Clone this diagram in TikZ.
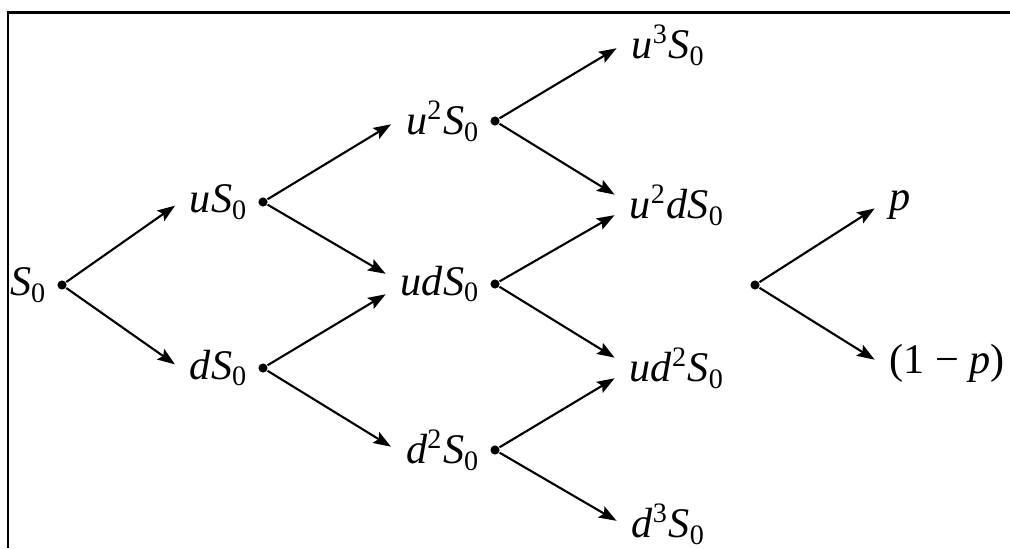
\documentclass[tikz,border=0pt]{standalone}
\usepackage{fontspec}
\setmainfont{Liberation Serif}
\usetikzlibrary{arrows.meta,positioning}
\newcommand{\Sz}{\textit{S}\textsubscript{0}}
\tikzset{
  lbl/.style  ={inner xsep=0.9mm, inner ysep=1pt, font=\fontsize{12}{14}\selectfont},
  fl/.style   ={-{Stealth[length=5pt,width=3.6pt,inset=0.9pt]}, line width=0.6pt,
                shorten >=1.8pt},
  knot/.style ={circle, fill, inner sep=0pt, minimum size=2.6pt},
}
\begin{document}
\begin{tikzpicture}[x=0.01cm, y=-0.01cm]
\useasboundingbox (0,0) rectangle (1010,548);
\draw[line width=0.85pt] (8,548) -- (8,12.5) -- (1010,12.5);
% branching points
\node[knot] (a0) at (62,285)  {};
\node[knot] (b1) at (263,202) {};
\node[knot] (b2) at (263,368) {};
\node[knot] (c1) at (495,121) {};
\node[knot] (c2) at (495,284) {};
\node[knot] (c3) at (495,450) {};
\node[knot] (q0) at (755,285) {};
% prices
\node[lbl, left=0pt of a0] (S)   {\Sz};
\node[lbl, left=0pt of b1] (uS)  {\textit{u}\Sz};
\node[lbl, left=0pt of b2] (dS)  {\textit{d}\Sz};
\node[lbl, left=0pt of c1] (uuS) {\textit{u}\textsuperscript{2}\Sz};
\node[lbl, left=0pt of c2] (udS) {\textit{ud}\Sz};
\node[lbl, left=0pt of c3] (ddS) {\textit{d}\textsuperscript{2}\Sz};
\node[lbl, anchor=west] (uuuS) at (622,45)  {\textit{u}\textsuperscript{3}\Sz};
\node[lbl, anchor=west] (uudS) at (620,205) {\textit{u}\textsuperscript{2}\textit{d}\Sz};
\node[lbl, anchor=west] (uddS) at (620,368) {\textit{ud}\textsuperscript{2}\Sz};
\node[lbl, anchor=west] (dddS) at (622,524) {\textit{d}\textsuperscript{3}\Sz};
% probabilities
\node[lbl, anchor=west] (pu) at (880,205) {\textit{p}};
\node[lbl, anchor=west] (pd) at (880,363) {(1 − \textit{p})};
\foreach \a/\b/\s in {a0/uS/0pt, a0/dS/0pt, b1/uuS/0pt, b1/udS/2pt, b2/udS/-2pt,
    b2/ddS/0pt, c1/uuuS/0pt, c1/uudS/2pt, c2/uudS/-2pt, c2/uddS/2pt,
    c3/uddS/-2pt, c3/dddS/0pt, q0/pu/0pt, q0/pd/0pt}
  \draw[fl] (\a) -- ([yshift=\s]\b.west);
\end{tikzpicture}
\end{document}
